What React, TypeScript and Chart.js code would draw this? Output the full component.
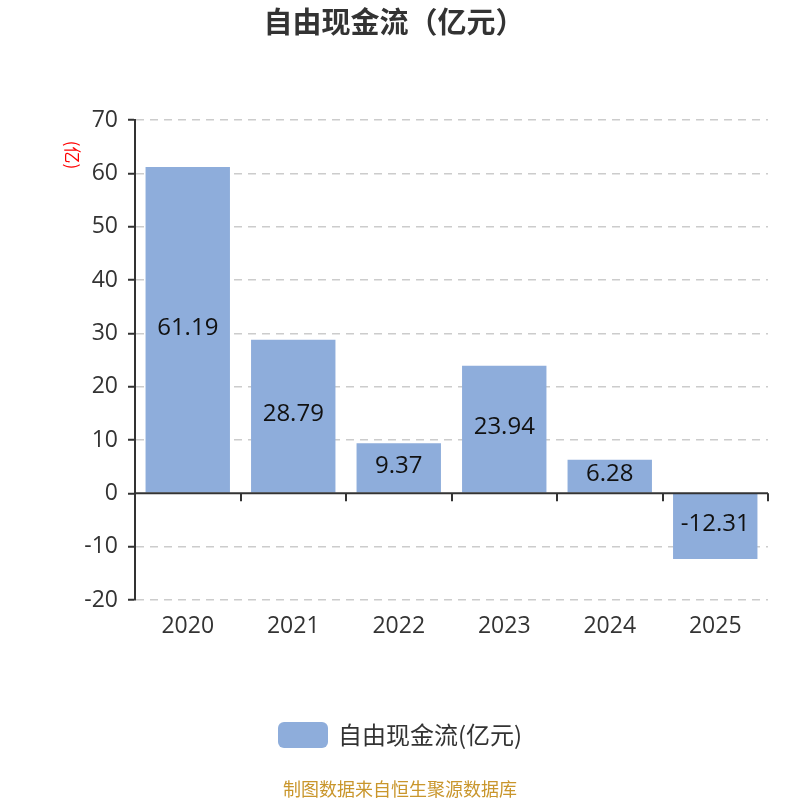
import React, { useEffect, useRef } from 'react';
import { Chart, registerables } from 'chart.js';

Chart.register(...registerables);

const categories = ['2020', '2021', '2022', '2023', '2024', '2025'];
const freeCashFlow = [61.19, 28.79, 9.37, 23.94, 6.28, -12.31];
const yMin = -20;
const yMax = 70;
const yStep = 10;
const seriesName = '自由现金流(亿元)';
const titleText = '自由现金流（亿元）';
const unitLabel = '(亿)';
const sourceText = '制图数据来自恒生聚源数据库';

const FONT = '"Noto Sans CJK SC", "Noto Sans", sans-serif';
const NUM_FONT = '"Open Sans", "Noto Sans CJK SC", sans-serif';
const BAR_COLOR = '#8eaddb';

const decorPlugin = {
  id: 'decor',
  afterDatasetsDraw(chart: any) {
    const { ctx, chartArea, scales } = chart;
    const x = scales.x;
    const y = scales.y;
    const y0 = y.getPixelForValue(0);
    ctx.save();
    ctx.strokeStyle = '#333';
    ctx.lineWidth = 2;
    ctx.beginPath();
    ctx.moveTo(chartArea.left, y0);
    ctx.lineTo(chartArea.right, y0);
    ctx.stroke();
    const half = (x.getPixelForValue(1) - x.getPixelForValue(0)) / 2;
    ctx.beginPath();
    categories.forEach((_, i) => {
      const px = Math.round(x.getPixelForValue(i) + half);
      ctx.moveTo(px, y0);
      ctx.lineTo(px, y0 + 8);
    });
    ctx.stroke();

    const meta = chart.getDatasetMeta(0);
    ctx.fillStyle = '#111';
    ctx.font = `24px ${NUM_FONT}`;
    ctx.textAlign = 'center';
    ctx.textBaseline = 'middle';
    meta.data.forEach((bar: any, i: number) => {
      const p = bar.getProps(['x', 'y', 'base'], true);
      ctx.fillText(freeCashFlow[i].toFixed(2), p.x, (p.y + p.base) / 2 - 2);
    });
    ctx.restore();
  },
  afterDraw(chart: any) {
    const { ctx } = chart;
    ctx.save();
    // title
    ctx.fillStyle = '#333';
    ctx.font = `bold 29px ${FONT}`;
    ctx.textAlign = 'center';
    ctx.textBaseline = 'middle';
    ctx.fillText(titleText, 394, 22);

    // unit label, rotated clockwise
    ctx.save();
    ctx.translate(72, 155);
    ctx.rotate(Math.PI / 2);
    ctx.fillStyle = '#ff0000';
    ctx.font = `17px ${FONT}`;
    ctx.textAlign = 'center';
    ctx.textBaseline = 'middle';
    ctx.fillText(unitLabel, 0, 0);
    ctx.restore();

    // legend
    ctx.fillStyle = BAR_COLOR;
    ctx.beginPath();
    (ctx as any).roundRect(278, 722, 50, 26, 6);
    ctx.fill();
    ctx.fillStyle = '#333';
    ctx.font = `24px ${FONT}`;
    ctx.textAlign = 'left';
    ctx.textBaseline = 'middle';
    ctx.fillText(seriesName, 338, 735);

    // source
    ctx.fillStyle = '#c9962c';
    ctx.font = `18px ${FONT}`;
    ctx.textAlign = 'center';
    ctx.fillText(sourceText, 400, 789);
    ctx.restore();
  },
};

export default function App() {
  const ref = useRef<HTMLCanvasElement | null>(null);
  useEffect(() => {
    if (!ref.current) return;
    const chart = new Chart(ref.current, {
      type: 'bar',
      data: {
        labels: categories,
        datasets: [
          {
            label: seriesName,
            data: freeCashFlow,
            backgroundColor: BAR_COLOR,
            categoryPercentage: 0.8,
            barPercentage: 1,
          },
        ],
      },
      options: {
        responsive: false,
        animation: false,
        devicePixelRatio: 1,
        layout: { padding: { top: 120, right: 32, left: 0, bottom: 0 } },
        plugins: {
          legend: { display: false },
          title: { display: false },
          tooltip: { enabled: false },
        },
        scales: {
          x: {
            grid: { display: false, drawTicks: false },
            border: { display: false },
            ticks: {
              color: '#333',
              font: { family: NUM_FONT, size: 23 },
              padding: 13,
            },
            afterFit(scale: any) {
              scale.height = 200;
            },
          },
          y: {
            min: yMin,
            max: yMax,
            ticks: {
              stepSize: yStep,
              color: '#333',
              font: { family: NUM_FONT, size: 23 },
              padding: 10,
            },
            grid: {
              color: (c: any) => (c.tick && c.tick.value === 0 ? 'rgba(0,0,0,0)' : '#cccccc'),
              lineWidth: 1.5,
              tickColor: '#333',
              tickLength: 7,
              tickWidth: 2,
            },
            border: { display: true, color: '#333', width: 2, dash: [8, 6] },
            afterFit(scale: any) {
              scale.width = 135;
            },
          },
        },
      },
      plugins: [decorPlugin],
    } as any);
    return () => chart.destroy();
  }, []);
  return (
    <div style={{ position: 'absolute', left: 0, top: 0, width: 800, height: 800, background: '#fff' }}>
      <canvas ref={ref} width={800} height={800} style={{ display: 'block' }} />
    </div>
  );
}
